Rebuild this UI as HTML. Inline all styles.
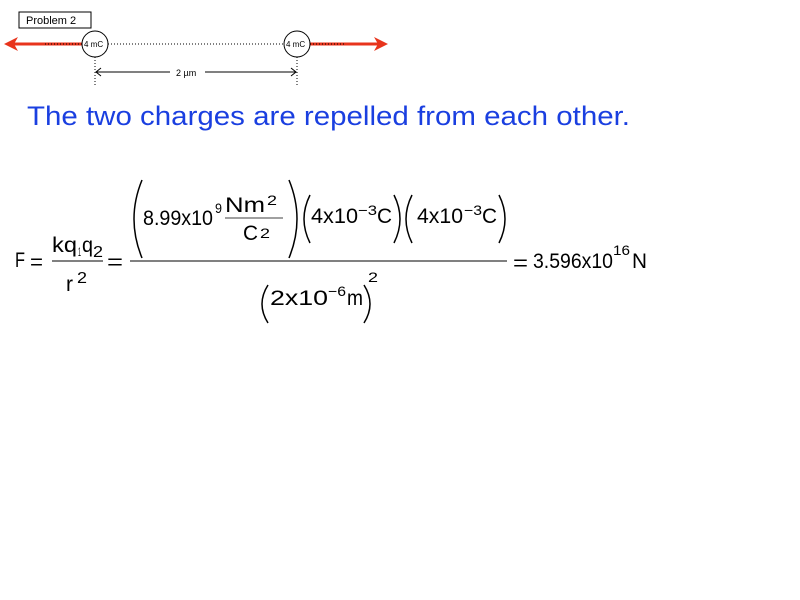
<!DOCTYPE html>
<html><head><meta charset="utf-8"><style>
html,body{margin:0;padding:0;background:#fff;width:800px;height:600px;overflow:hidden}
svg{display:block}
text{font-family:"Liberation Sans",sans-serif;fill:#000}
</style></head><body>
<svg width="800" height="600" viewBox="0 0 800 600" xmlns="http://www.w3.org/2000/svg">
<rect x="19" y="12" width="72" height="16" fill="#fff" stroke="#000" stroke-width="1"/>
<text x="26" y="24" font-size="11">Problem 2</text>
<line x1="45" y1="44" x2="345" y2="44" stroke="#000" stroke-width="1" stroke-dasharray="1,2"/>
<line x1="12" y1="44" x2="82" y2="44" stroke="#e8341c" stroke-width="3"/>
<polygon points="4,44 18,37 14,44 18,51" fill="#e8341c"/>
<line x1="310" y1="44" x2="380" y2="44" stroke="#e8341c" stroke-width="3"/>
<polygon points="388,44 374,37 378,44 374,51" fill="#e8341c"/>
<line x1="45" y1="44" x2="82" y2="44" stroke="#000" stroke-width="1" stroke-dasharray="1,2"/>
<line x1="310" y1="44" x2="345" y2="44" stroke="#000" stroke-width="1" stroke-dasharray="1,2"/>
<circle cx="95" cy="44" r="13" fill="#fff" stroke="#000"/>
<circle cx="297" cy="44" r="13" fill="#fff" stroke="#000"/>
<text x="84" y="47" font-size="8">4 mC</text>
<text x="286" y="47" font-size="8">4 mC</text>
<line x1="95" y1="57" x2="95" y2="86" stroke="#000" stroke-dasharray="1,2"/>
<line x1="297" y1="57" x2="297" y2="86" stroke="#000" stroke-dasharray="1,2"/>
<line x1="96" y1="72" x2="170" y2="72" stroke="#000"/>
<line x1="205" y1="72" x2="296" y2="72" stroke="#000"/>
<polyline points="101,68 96,72 101,76" fill="none" stroke="#000"/>
<polyline points="291,68 296,72 291,76" fill="none" stroke="#000"/>
<text x="176" y="76" font-size="9">2 µm</text>
<text x="27" y="125" font-size="27" style="fill:#1a3fe0" textLength="603" lengthAdjust="spacingAndGlyphs">The two charges are repelled from each other.</text>
<g font-size="21">
<text x="15" y="267" textLength="10" lengthAdjust="spacingAndGlyphs">F</text>
<text x="30" y="269" textLength="13" lengthAdjust="spacingAndGlyphs">=</text>
<text x="52" y="252" textLength="25" lengthAdjust="spacingAndGlyphs">kq</text>
<text x="78" y="256" font-size="12" textLength="3" lengthAdjust="spacingAndGlyphs">1</text>
<text x="82" y="252" textLength="11" lengthAdjust="spacingAndGlyphs">q</text>
<text x="93" y="257" font-size="16" textLength="10" lengthAdjust="spacingAndGlyphs">2</text>
<line x1="52" y1="261" x2="103" y2="261" stroke="#000" stroke-width="1"/>
<text x="66" y="291" textLength="7" lengthAdjust="spacingAndGlyphs">r</text>
<text x="77" y="283" font-size="16" textLength="10" lengthAdjust="spacingAndGlyphs">2</text>
<text x="107" y="269" textLength="16" lengthAdjust="spacingAndGlyphs">=</text>
<line x1="130" y1="261" x2="507" y2="261" stroke="#000" stroke-width="1"/>
<path d="M142,180 Q126,219 142,258" fill="none" stroke="#000" stroke-width="1.5"/>
<text x="143" y="225" textLength="70" lengthAdjust="spacingAndGlyphs">8.99x10</text>
<text x="215" y="213" font-size="14" textLength="7" lengthAdjust="spacingAndGlyphs">9</text>
<text x="225" y="212" textLength="40" lengthAdjust="spacingAndGlyphs">Nm</text>
<text x="267" y="205" font-size="14" textLength="10" lengthAdjust="spacingAndGlyphs">2</text>
<line x1="225" y1="218" x2="283" y2="218" stroke="#000" stroke-width="0.8"/>
<text x="243" y="240" textLength="15" lengthAdjust="spacingAndGlyphs">C</text>
<text x="260" y="238" font-size="14" textLength="10" lengthAdjust="spacingAndGlyphs">2</text>
<path d="M289,180 Q305,219 289,258" fill="none" stroke="#000" stroke-width="1.5"/>
<path d="M310,195 Q298,219 310,243" fill="none" stroke="#000" stroke-width="1.5"/>
<text x="311" y="223" textLength="47" lengthAdjust="spacingAndGlyphs">4x10</text>
<text x="358" y="215" font-size="14" textLength="19" lengthAdjust="spacingAndGlyphs">−3</text>
<text x="377" y="223" textLength="15" lengthAdjust="spacingAndGlyphs">C</text>
<path d="M394,195 Q406,219 394,243" fill="none" stroke="#000" stroke-width="1.5"/>
<path d="M412,195 Q400,219 412,243" fill="none" stroke="#000" stroke-width="1.5"/>
<text x="417" y="223" textLength="46" lengthAdjust="spacingAndGlyphs">4x10</text>
<text x="464" y="215" font-size="14" textLength="18" lengthAdjust="spacingAndGlyphs">−3</text>
<text x="482" y="223" textLength="15" lengthAdjust="spacingAndGlyphs">C</text>
<path d="M499,195 Q511,219 499,243" fill="none" stroke="#000" stroke-width="1.5"/>
<path d="M268,285 Q256,304 268,323" fill="none" stroke="#000" stroke-width="1.5"/>
<text x="270" y="305" textLength="58" lengthAdjust="spacingAndGlyphs">2x10</text>
<text x="328" y="296" font-size="14" textLength="18" lengthAdjust="spacingAndGlyphs">−6</text>
<text x="347" y="305" textLength="16" lengthAdjust="spacingAndGlyphs">m</text>
<path d="M364,285 Q376,304 364,323" fill="none" stroke="#000" stroke-width="1.5"/>
<text x="368" y="282" font-size="14" textLength="10" lengthAdjust="spacingAndGlyphs">2</text>
<text x="513" y="270" textLength="15" lengthAdjust="spacingAndGlyphs">=</text>
<text x="533" y="268" textLength="80" lengthAdjust="spacingAndGlyphs">3.596x10</text>
<text x="613" y="255" font-size="14" textLength="17" lengthAdjust="spacingAndGlyphs">16</text>
<text x="632" y="268" textLength="15" lengthAdjust="spacingAndGlyphs">N</text>
</g>
</svg>
</body></html>
